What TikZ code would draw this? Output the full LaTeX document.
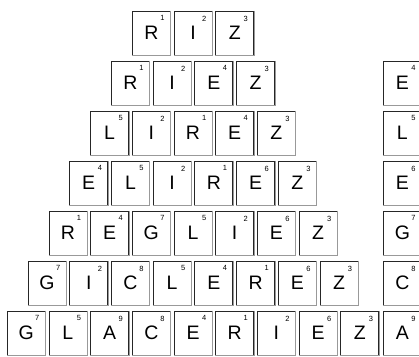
\documentclass[tikz,border=0pt]{standalone}
\usepackage{fontspec}
\setmainfont{Liberation Sans}

\begin{document}
\begin{tikzpicture}[x=1pt,y=-1pt,
	tile/.style={draw=black!85, line width=0.8pt, minimum width=38pt, minimum height=44pt, inner sep=0pt, font=\fontsize{19.5}{20}\selectfont},
	edge/.style={gray!80, line width=0.8pt},
	score/.style={anchor=north east, inner sep=0pt, font=\fontsize{7.5}{8}\selectfont}]
	\useasboundingbox (0,0) rectangle (419,356);
	% pyramid of words, one row more per step
	\foreach \word [count=\r] in {{R/1,I/2,Z/3},{R/1,I/2,E/4,Z/3},{L/5,I/2,R/1,E/4,Z/3},{E/4,L/5,I/2,R/1,E/6,Z/3},{R/1,E/4,G/7,L/5,I/2,E/6,Z/3},{G/7,I/2,C/8,L/5,E/4,R/1,E/6,Z/3},{G/7,L/5,A/9,C/8,E/4,R/1,I/2,E/6,Z/3}} {
		\pgfmathsetmacro{\xs}{193-(\r+1)*41.7/2}
		\foreach \l/\n [count=\c] in \word {
			\node[tile] (t\r-\c) at ({\xs+(\c-1)*41.7},{33+(\r-1)*50}) {\l};
			\draw[edge] (t\r-\c.north east) -- (t\r-\c.south east) -- (t\r-\c.south west);
			\node[score] (s\r-\c) at ([xshift=-6pt,yshift=-5pt]t\r-\c.north east) {\n};
		}
	}
	% column on the right
	\foreach \l/\n [count=\r from 2] in {E/4,L/5,E/6,G/7,C/8,A/9} {
		\node[tile] (c\r) at (402.4,{33+(\r-1)*50}) {\l};
		\draw[edge] (c\r.north east) -- (c\r.south east) -- (c\r.south west);
		\node[score] (cs\r) at ([xshift=-6pt,yshift=-5pt]c\r.north east) {\n};
	}
\end{tikzpicture}
\end{document}
